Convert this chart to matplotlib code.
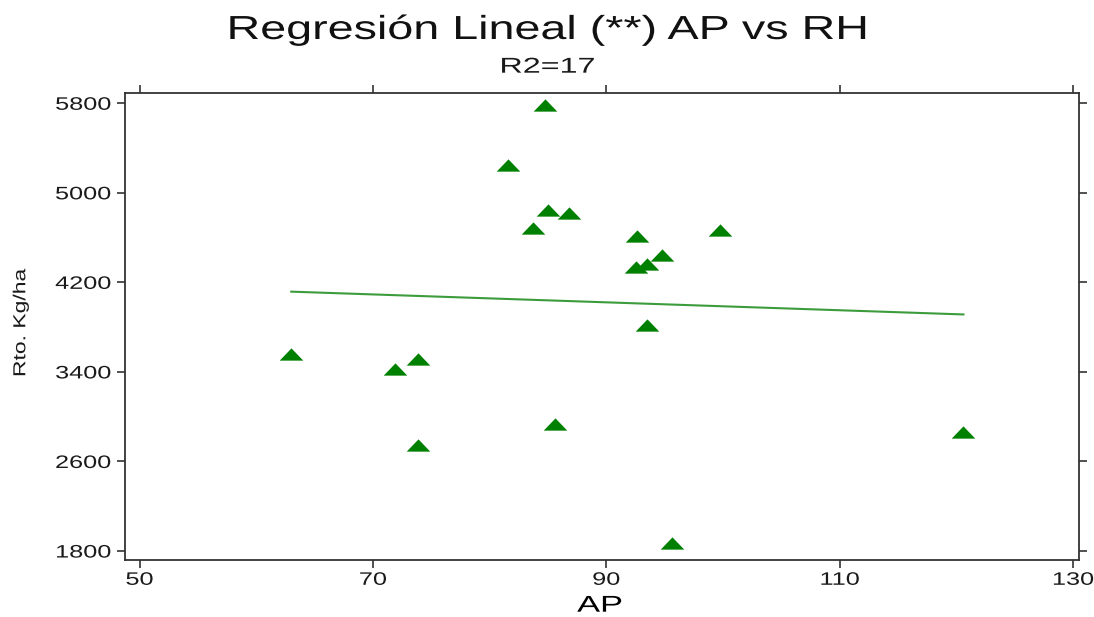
import numpy as np
import matplotlib.pyplot as plt
from matplotlib.path import Path
from matplotlib.patheffects import AbstractPathEffect
from matplotlib.transforms import Affine2D

# AP (x) and Rto. Kg/ha (y) observations
ap = [84.75, 81.6, 85, 86.8, 83.7, 92.6, 99.7, 94.8, 93.5, 92.5, 93.5, 63, 73.9, 71.9, 120.6, 95.65, 85.6, 73.9]
rto = [5785, 5250, 4845, 4820, 4690, 4615, 4670, 4440, 4360, 4340, 3815, 3560, 3515, 3430, 2865, 1875, 2935, 2745]

xticks = [50, 70, 90, 110, 130]
yticks = [1800, 2600, 3400, 4200, 5000, 5800]


class Widen(AbstractPathEffect):
    """Stretch text glyphs along the baseline around an anchor."""

    def __init__(self, sx, anchor='center'):
        super().__init__()
        self.sx = sx
        self.anchor = anchor

    def draw_path(self, renderer, gc, tpath, affine, rgbFace=None):
        ext = tpath.get_extents()
        if self.anchor == 'right':
            cx = ext.x1
        elif self.anchor == 'left':
            cx = ext.x0
        else:
            cx = (ext.x0 + ext.x1) / 2
        t = Affine2D().translate(-cx, 0).scale(self.sx, 1).translate(cx, 0) + affine
        renderer.draw_path(gc, tpath, t, rgbFace)


plt.rcParams['font.family'] = ['Liberation Sans', 'DejaVu Sans']

fig = plt.figure(figsize=(10.94, 6.17), dpi=100)
ax = fig.add_axes([0.1143, 0.0924, 0.872, 0.7564])

# flat triangle marker
tri = Path([(-1, -0.52), (1, -0.52), (0, 0.52), (-1, -0.52)],
           [Path.MOVETO, Path.LINETO, Path.LINETO, Path.CLOSEPOLY])

# least squares line over the observed AP range
b, a = np.polyfit(ap, rto, 1)
xs = np.array([min(ap), max(ap)])
ax.plot(xs, a + b * xs, color='#3c9c3c', lw=1.5)

ax.plot(ap, rto, linestyle='none', marker=tri, markersize=17,
        color='#008000', markeredgewidth=0)

ax.set_xlim(48.76, 130.5)
ax.set_ylim(1720, 5889)
ax.set_xticks(xticks)
ax.set_yticks(yticks)
ax.tick_params(direction='out', length=5.5, width=1.2, labelsize=13,
               top=True, right=True, colors='#333333', labelcolor='#1a1a1a')
ax.tick_params(axis='y', pad=4.5)
ax.tick_params(axis='x', pad=3)
for lab in ax.get_yticklabels():
    lab.set_path_effects([Widen(1.40, 'right')])
for lab in ax.get_xticklabels():
    lab.set_path_effects([Widen(1.40)])
for s in ax.spines.values():
    s.set_linewidth(1.3)
    s.set_color('#333333')

xl = ax.set_xlabel('AP', fontsize=16.5, va='baseline')
xl.set_path_effects([Widen(1.5)])
ax.xaxis.set_label_coords(0.4976, -0.1108)

yl = ax.set_ylabel('Rto. Kg/ha', fontsize=12.5, va='center', color='#1a1a1a')
yl.set_path_effects([Widen(1.32)])
ax.yaxis.set_label_coords(-0.1093, 0.5087)

t1 = fig.text(0.5009, 0.9368, 'Regresión Lineal (**) AP vs RH',
              ha='center', va='baseline', fontsize=24, color='#111111')
t1.set_path_effects([Widen(1.40)])
t2 = fig.text(0.5005, 0.8822, 'R2=17', ha='center', va='baseline',
              fontsize=15.5, color='#1a1a1a')
t2.set_path_effects([Widen(1.5)])

fig.savefig('out.png', dpi=100)
